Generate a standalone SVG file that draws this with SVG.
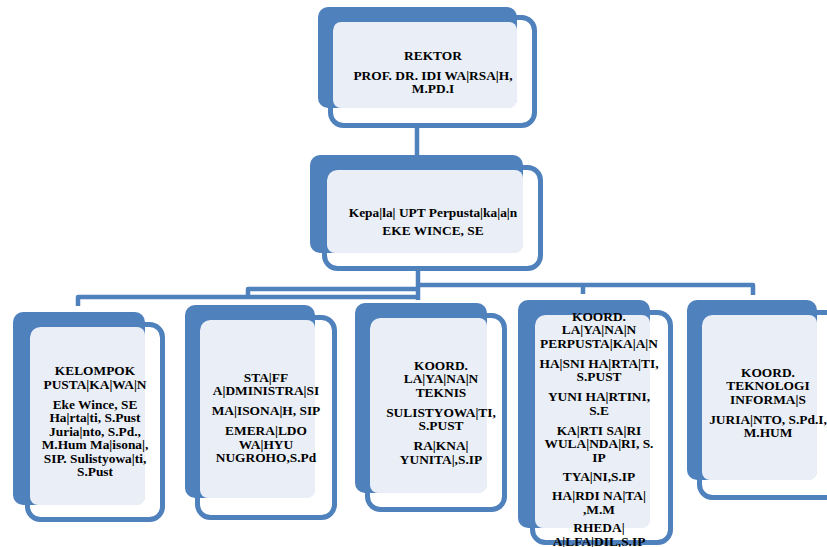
<svg xmlns="http://www.w3.org/2000/svg" width="827" height="547" viewBox="0 0 827 547">
<style>
.back{fill:#4F81BD}
.light{fill:#EAEFF7}
.frame{fill:none;stroke:#4F81BD;stroke-width:5}
.conn{fill:none;stroke:#4F81BD;stroke-width:4.5;stroke-linejoin:round}
text{font-family:"Liberation Serif","Times New Roman",serif;font-weight:bold;font-size:13.4px;fill:#000;text-anchor:middle}
</style>
<rect width="827" height="547" fill="#fff"/>
<g id="connectors">
<path class="conn" d="M417,126 V157"/>
<path class="conn" d="M418,270 V300"/>
<path class="conn" d="M418,297 H78 V306"/>
<path class="conn" d="M418,289 H248 V299"/>
<path class="conn" d="M418,285 H753 V295"/>
<path class="conn" d="M583,285 V294"/>
</g>
<g id="rektor">
<rect class="back" x="318" y="7" width="199" height="101" rx="10"/>
<rect class="light" x="333" y="22" width="184" height="86" rx="8"/>
<rect class="frame" x="330.5" y="17.5" width="204" height="108" rx="13"/>
<text x="433" y="59.5">REKTOR</text>
<text x="433" y="79.5">PROF. DR. IDI WA|RSA|H,</text>
<text x="433" y="93">M.PD.I</text>
</g>
<g id="kepala">
<rect class="back" x="310" y="155" width="213" height="98" rx="10"/>
<rect class="light" x="327" y="170" width="196" height="83" rx="8"/>
<rect class="frame" x="324.5" y="167.5" width="216" height="101" rx="13"/>
<text x="433" y="216.5">Kepa|la| UPT Perpusta|ka|a|n</text>
<text x="433" y="235">EKE WINCE, SE</text>
</g>
<g id="kelompok">
<rect class="back" x="13" y="312" width="132" height="193" rx="10"/>
<rect class="light" x="30" y="327" width="115" height="178" rx="8"/>
<rect class="frame" x="27.5" y="324.5" width="135" height="195" rx="13"/>
<text x="95" y="375">KELOMPOK</text>
<text x="95" y="388.5">PUSTA|KA|WA|N</text>
<text x="95" y="408.5">Eke Wince, SE</text>
<text x="95" y="422">Ha|rta|ti, S.Pust</text>
<text x="95" y="435.5">Juria|nto, S.Pd.,</text>
<text x="95" y="449">M.Hum Ma|isona|,</text>
<text x="95" y="462.5">SIP. Sulistyowa|ti,</text>
<text x="95" y="476">S.Pust</text>
</g>
<g id="staff">
<rect class="back" x="185" y="305" width="130" height="193" rx="10"/>
<rect class="light" x="200" y="320" width="115" height="178" rx="8"/>
<rect class="frame" x="197.5" y="317.5" width="137" height="200" rx="13"/>
<text x="266" y="381.5">STA|FF</text>
<text x="266" y="395">A|DMINISTRA|SI</text>
<text x="266" y="415">MA|ISONA|H, SIP</text>
<text x="266" y="435">EMERA|LDO</text>
<text x="266" y="448.5">WA|HYU</text>
<text x="266" y="462">NUGROHO,S.Pd</text>
</g>
<g id="teknis">
<rect class="back" x="355" y="303" width="132" height="190" rx="10"/>
<rect class="light" x="370" y="318" width="117" height="175" rx="8"/>
<rect class="frame" x="367.5" y="315.5" width="137" height="194" rx="13"/>
<text x="441" y="369.5">KOORD.</text>
<text x="441" y="383">LA|YA|NA|N</text>
<text x="441" y="396.5">TEKNIS</text>
<text x="441" y="416.5">SULISTYOWA|TI,</text>
<text x="441" y="430">S.PUST</text>
<text x="441" y="450">RA|KNA|</text>
<text x="441" y="463.5">YUNITA|,S.IP</text>
</g>
<g id="perpustakaan">
<rect class="back" x="518" y="300" width="132" height="228" rx="10"/>
<rect class="light" x="535" y="315" width="115" height="213" rx="8"/>
<rect class="frame" x="532.5" y="312.5" width="138" height="230" rx="13"/>
<text x="599" y="320.5">KOORD.</text>
<text x="599" y="334">LA|YA|NA|N</text>
<text x="599" y="347.5">PERPUSTA|KA|A|N</text>
<text x="599" y="367.5">HA|SNI HA|RTA|TI,</text>
<text x="599" y="381">S.PUST</text>
<text x="599" y="401">YUNI HA|RTINI,</text>
<text x="599" y="414.5">S.E</text>
<text x="599" y="434.5">KA|RTI SA|RI</text>
<text x="599" y="448">WULA|NDA|RI, S.</text>
<text x="599" y="461.5">IP</text>
<text x="599" y="481">TYA|NI,S.IP</text>
<text x="599" y="500">HA|RDI NA|TA|</text>
<text x="599" y="514">,M.M</text>
<text x="599" y="531.5">RHEDA|</text>
<text x="599" y="546">A|LFA|DIL,S.IP</text>
</g>
<g id="teknologi">
<rect class="back" x="687" y="300" width="130" height="180" rx="10"/>
<rect class="light" x="702" y="315" width="115" height="165" rx="8"/>
<rect class="frame" x="699.5" y="312.5" width="140" height="185" rx="13"/>
<text x="768" y="376.5">KOORD.</text>
<text x="768" y="390">TEKNOLOGI</text>
<text x="768" y="403.5">INFORMA|S</text>
<text x="768" y="423.5">JURIA|NTO, S.Pd.I,</text>
<text x="768" y="437">M.HUM</text>
</g>
</svg>
